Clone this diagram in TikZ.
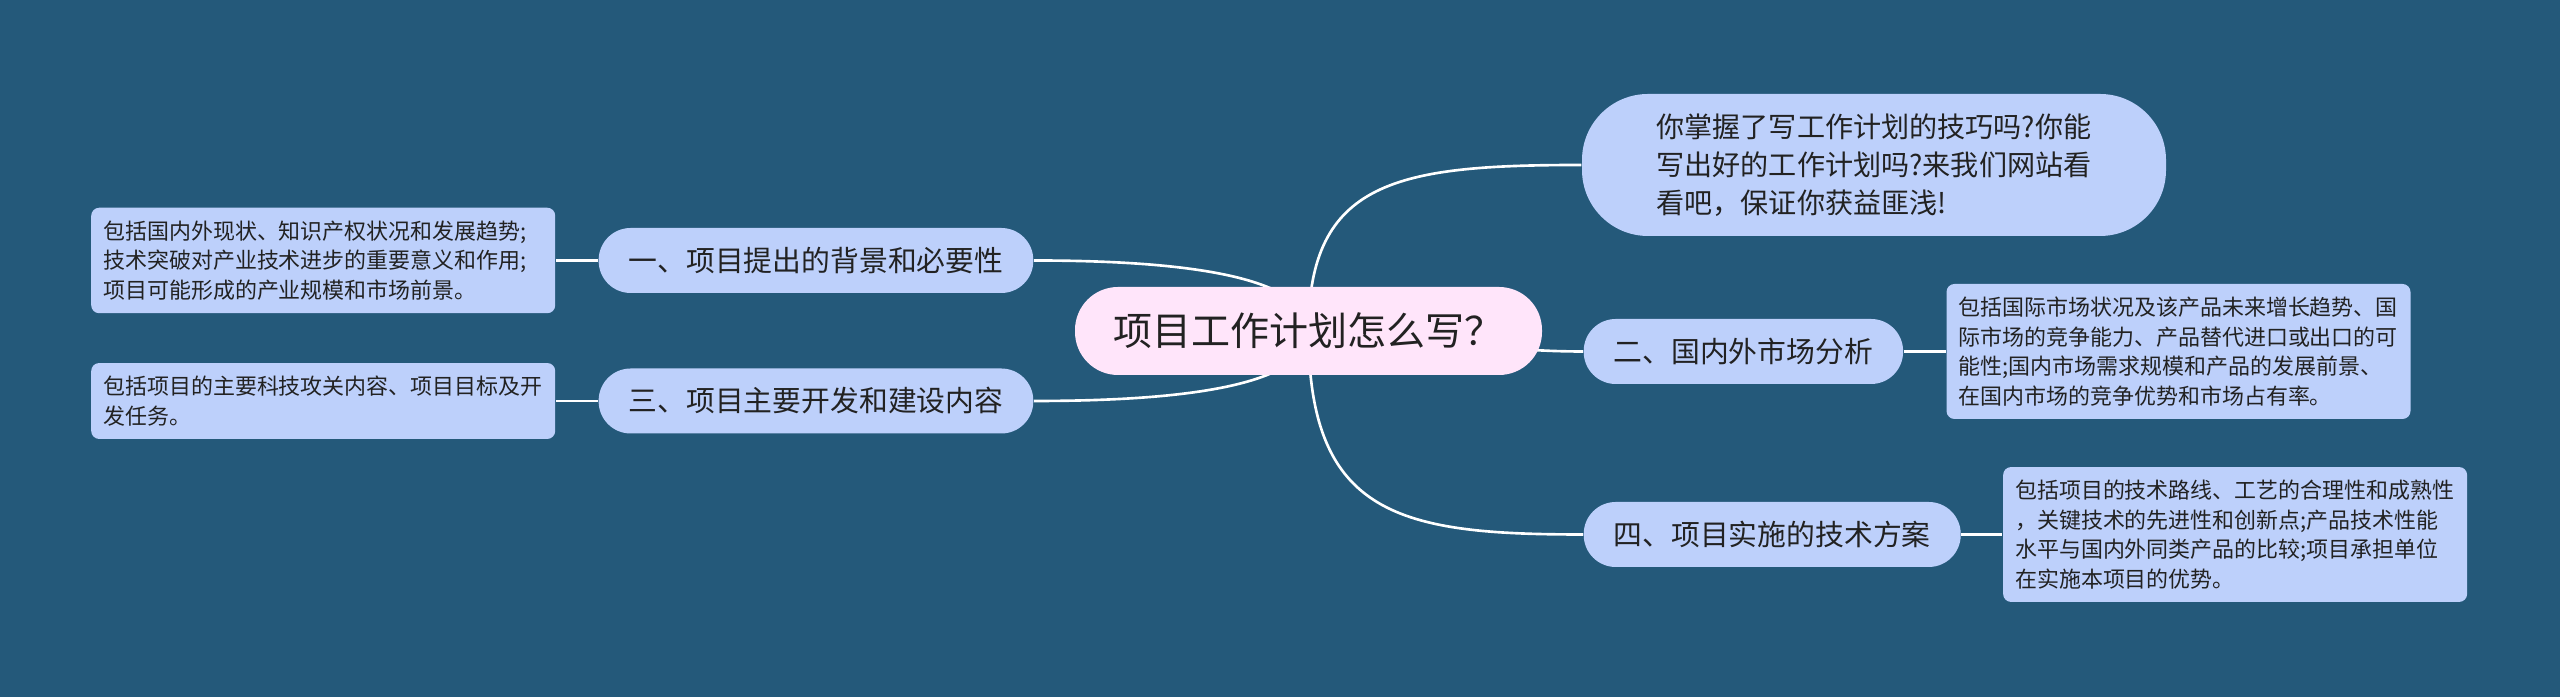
\documentclass[tikz,border=0pt]{standalone}
\usepackage{fontspec}
\setmainfont{Noto Sans CJK SC}
\usetikzlibrary{positioning}
\definecolor{pagebg}{HTML}{24597A}
\definecolor{topic}{HTML}{BDD0FB}
\definecolor{rootfill}{HTML}{FFE5FA}
\definecolor{ink}{HTML}{222222}
\pgfdeclarelayer{backdrop}
\pgfdeclarelayer{links}
\pgfsetlayers{backdrop,links,main}

\begin{document}
\begin{tikzpicture}[text=ink,
  root/.style={fill=rootfill,rounded corners=0.43cm,minimum height=0.88cm,minimum width=4.67cm,
    font=\fontsize{11.1pt}{13pt}\selectfont},
  bubble/.style={fill=topic,rounded corners=0.66cm,minimum height=1.42cm,minimum width=5.84cm,
    align=left,font=\fontsize{8pt}{10.8pt}\selectfont},
  branch/.style={fill=topic,rounded corners=0.32cm,minimum height=0.65cm,inner xsep=0.3cm,
    font=\fontsize{8.2pt}{10pt}\selectfont},
  note/.style={fill=topic,rounded corners=0.08cm,text width=4.4cm,align=left,inner xsep=0.12cm,
    inner ysep=0.13cm,font=\fontsize{6.25pt}{8.4pt}\selectfont},
  link/.style={draw=white,line width=0.75pt}]

\useasboundingbox (0,0) rectangle (25.6,-6.97);
\begin{pgfonlayer}{backdrop}
\fill[pagebg] (0,0) rectangle (25.6,-6.97);
\end{pgfonlayer}

%% centre and the four branches
\node[root] (root) at (13.085,-3.31) {项目工作计划怎么写？};
\node[bubble] (ad) at (18.74,-1.65) {你掌握了写工作计划的技巧吗?你能\\写出好的工作计划吗?来我们网站看\\看吧，保证你获益匪浅!};
\node[branch,anchor=west] (mkt) at (15.83,-3.515) {二、国内外市场分析};
\node[branch,anchor=west] (plan) at (15.83,-5.345) {四、项目实施的技术方案};
\node[branch,anchor=east] (bg) at (10.34,-2.605) {一、项目提出的背景和必要性};
\node[branch,anchor=east] (dev) at (10.34,-4.01) {三、项目主要开发和建设内容};

%% notes
\node[note,left=0.42cm of bg] (bgnote) {包括国内外现状、知识产权状况和发展趋势;\\技术突破对产业技术进步的重要意义和作用;\\项目可能形成的产业规模和市场前景。};
\node[note,left=0.42cm of dev] (devnote) {包括项目的主要科技攻关内容、项目目标及开\\发任务。};
\node[note,right=0.42cm of mkt] (mktnote) {包括国际市场状况及该产品未来增长趋势、国\\际市场的竞争能力、产品替代进口或出口的可\\能性;国内市场需求规模和产品的发展前景、\\在国内市场的竞争优势和市场占有率。};
\node[note,right=0.41cm of plan] (plannote) {包括项目的技术路线、工艺的合理性和成熟性\\，关键技术的先进性和创新点;产品技术性能\\水平与国内外同类产品的比较;项目承担单位\\在实施本项目的优势。};

%% links
\begin{pgfonlayer}{links}
\draw[link] (root.center) .. controls +(0,1.51) and +(-1.83,0) .. (ad.west);
\draw[link] (root.center) to[out=0,in=180] (mkt.west);
\draw[link] (root.center) .. controls +(0,-1.85) and +(-1.83,0) .. (plan.west);
\draw[link] (root.center) .. controls +(0,0.47) and +(1.83,0) .. (bg.east);
\draw[link] (root.center) .. controls +(0,-0.47) and +(1.83,0) .. (dev.east);
\draw[link] (bg.west) -- (bgnote.east);
\draw[link] (dev.west) -- (devnote.east);
\draw[link] (mkt.east) -- (mktnote.west);
\draw[link] (plan.east) -- (plannote.west);
\end{pgfonlayer}
\end{tikzpicture}
\end{document}
